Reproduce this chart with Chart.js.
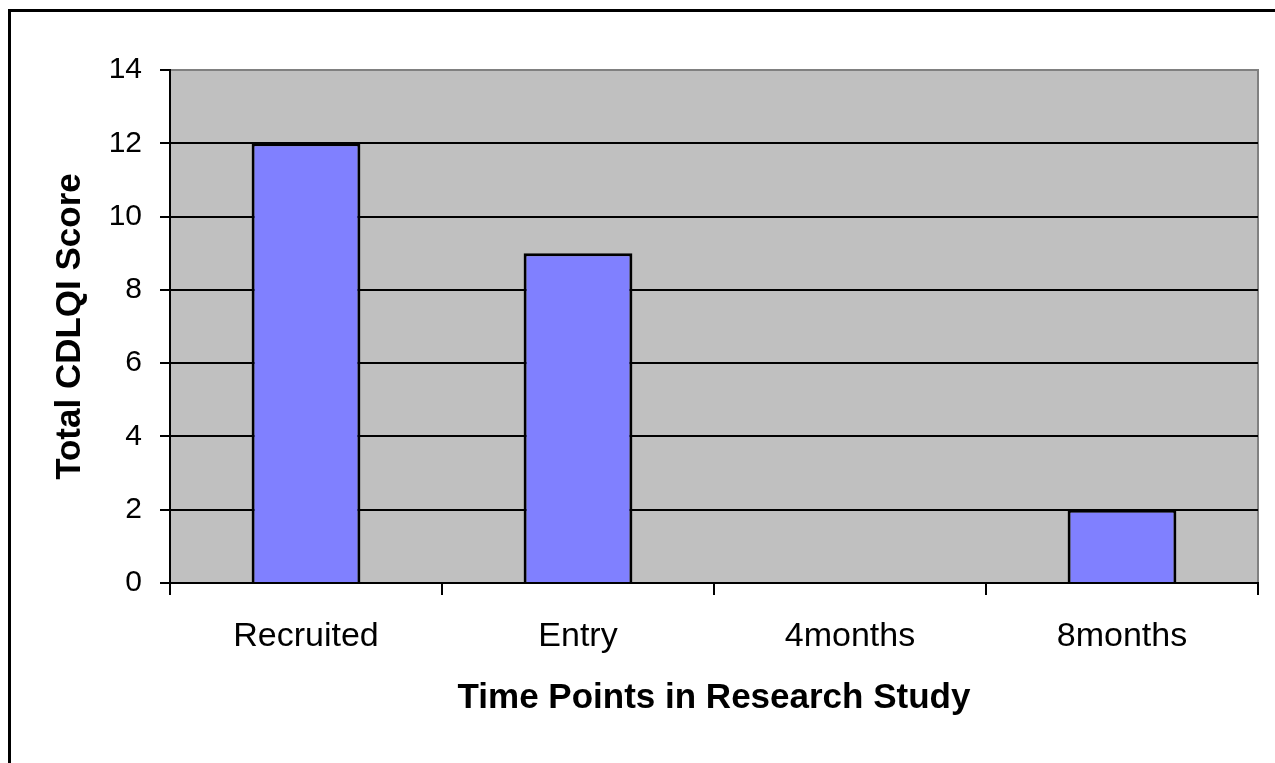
<!DOCTYPE html>
<html>
<head>
<meta charset="utf-8">
<script src="https://cdn.jsdelivr.net/npm/chart.js"></script>
<style>
  body { margin: 0; background: #fff; }
  #frame { position: absolute; left: 8px; top: 9px; width: 1300px; height: 800px;
           border-left: 3px solid #000; border-top: 3px solid #000; }
  #chart { position: absolute; left: 0; top: 0; }
</style>
</head>
<body>
<div id="frame"></div>
<canvas id="chart" width="1275" height="763"></canvas>
<script>
const categories = ["Recruited", "Entry", "4months", "8months"];
const scores = [12, 9, 0, 2];
const yTicks = [0, 2, 4, 6, 8, 10, 12, 14];

// grey plot area with grey top/right edge, like the old Excel look
const plotBg = {
  id: "plotBg",
  beforeDraw(chart) {
    const { ctx, chartArea: a } = chart;
    ctx.save();
    ctx.fillStyle = "#c0c0c0";
    ctx.fillRect(a.left, a.top, a.right - a.left, a.bottom - a.top);
    ctx.strokeStyle = "#808080";
    ctx.lineWidth = 2;
    ctx.beginPath();
    ctx.moveTo(a.left, a.top);
    ctx.lineTo(a.right, a.top);
    ctx.lineTo(a.right, a.bottom);
    ctx.stroke();
    ctx.restore();
  }
};

new Chart(document.getElementById("chart").getContext("2d"), {
  type: "bar",
  data: {
    labels: categories,
    datasets: [{
      data: scores,
      backgroundColor: "#8080ff",
      borderColor: "#000",
      borderWidth: 3,
      barPercentage: 0.4,
      categoryPercentage: 1
    }]
  },
  options: {
    responsive: false,
    animation: false,
    layout: { padding: { left: 45, top: 70, right: 17, bottom: 40 } },
    plugins: { legend: { display: false }, tooltip: { enabled: false } },
    scales: {
      x: {
        afterFit: s => { s.height = 140; },
        grid: { offset: true, drawOnChartArea: false, tickLength: 12, color: "#000", lineWidth: 2 },
        border: { color: "#000", width: 2 },
        ticks: { color: "#000", padding: 21, font: { family: "Arial, 'Liberation Sans'", size: 34 } },
        title: { display: true, text: "Time Points in Research Study", color: "#000",
                 font: { family: "Arial, 'Liberation Sans'", size: 35, weight: "bold" } }
      },
      y: {
        min: 0, max: 14,
        afterFit: s => { s.width = 125; },
        afterBuildTicks: s => { s.ticks = yTicks.map(v => ({ value: v })); },
        grid: {
          color: c => (c.tick && c.tick.value === 14 ? "#808080" : "#000"),
          tickColor: "#000",
          lineWidth: 2,
          tickLength: 10
        },
        border: { color: "#000", width: 2 },
        ticks: { color: "#000", padding: 18, font: { family: "Arial, 'Liberation Sans'", size: 30 } },
        title: { display: true, text: "Total CDLQI Score", color: "#000",
                 font: { family: "Arial, 'Liberation Sans'", size: 35, weight: "bold" } }
      }
    }
  },
  plugins: [plotBg]
});
</script>
</body>
</html>
